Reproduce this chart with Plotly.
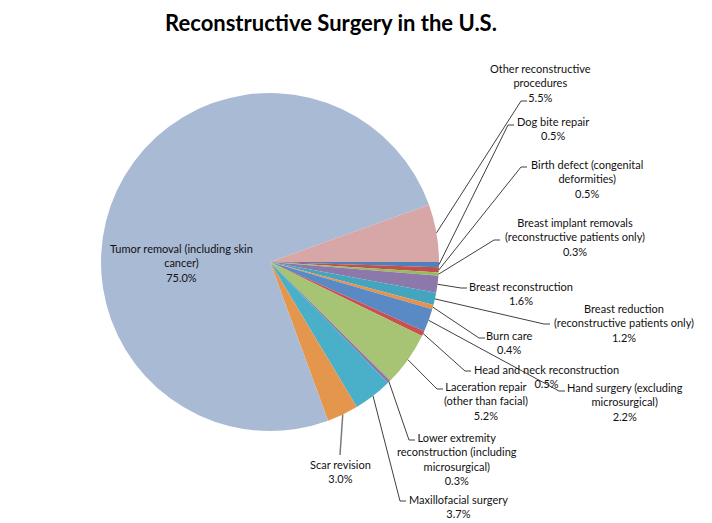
import math
import plotly.graph_objects as go

# ---- data (clockwise order, starting at 3 o'clock) ----
categories = [
    "Dog bite repair",
    "Birth defect (congenital<br>deformities)",
    "Breast implant removals<br>(reconstructive patients only)",
    "Breast reconstruction",
    "Breast reduction<br>(reconstructive patients only)",
    "Burn care",
    "Hand surgery (excluding<br>microsurgical)",
    "Head and neck reconstruction",
    "Laceration repair<br>(other than facial)",
    "Lower extremity<br>reconstruction (including<br>microsurgical)",
    "Maxillofacial surgery",
    "Scar revision",
    "Tumor removal (including skin<br>cancer)",
    "Other reconstructive<br>procedures",
]
values = [0.5, 0.5, 0.3, 1.6, 1.2, 0.4, 2.2, 0.5, 5.2, 0.3, 3.7, 3.0, 75.0, 5.5]
pct_labels = ["0.5%", "0.5%", "0.3%", "1.6%", "1.2%", "0.4%", "2.2%", "0.5%",
              "5.2%", "0.3%", "3.7%", "3.0%", "75.0%", "5.5%"]

colors = ["#4F81BD", "#C0504D", "#9BBB59", "#8D78AB", "#45A5BE", "#E8914A",
          "#5A8AC6", "#C9504E", "#A6C474", "#8D78AB", "#4AAFC8", "#E5964D",
          "#A9BAD5", "#D6A7A6"]

# ---- layout constants (pixels in the 712x523 window) ----
WIN_W, WIN_H = 712, 523
OFF = 8                       # page body margin
W, H = WIN_W - OFF, WIN_H - OFF
CX, CY, R = 270, 262, 169
ROTATION = 90  # first slice starts at 3 o'clock

# label block centre (x, y) and leader tick right end (x, y) or None
label_pos = [
    (553, 129), (587, 179), (575, 237), (521, 293.5), (624, 322.5),
    (510, 342), (625, 402), (546, 376), (486, 401), (457, 458.5),
    (458, 506), (340, 471), (181, 263), (540, 83),
]
tick_pos = [
    (514, 125), (527, 167), (500, 240), (467, 288), (550, 324),
    (485, 338), (565, 391), (471, 371), (443, 389), (415, 440),
    (406, 501), None, None, (527, 101),
]

def px(x):
    return (x - OFF) / W

def py(y):
    return 1 - (y - OFF) / H

fig = go.Figure()
fig.add_trace(go.Pie(
    labels=categories,
    values=values,
    sort=False,
    direction="clockwise",
    rotation=ROTATION,
    marker=dict(colors=colors, line=dict(width=0)),
    textinfo="none",
    hoverinfo="label+percent",
    showlegend=False,
    domain=dict(x=[px(CX - R), px(CX + R)], y=[py(CY + R), py(CY - R)]),
))

FONT = dict(family="Lato, Roboto, sans-serif", size=11, color="#111111")
shapes = []
annotations = []
total = sum(values)
cum = 0.0
for i, v in enumerate(values):
    mid = cum + v / 2
    cum += v
    ang = math.radians(ROTATION + 360 * mid / total)  # clockwise from 12 o'clock
    ex = CX + R * math.sin(ang)
    ey = CY - R * math.cos(ang)
    lx, ly = label_pos[i]
    annotations.append(dict(
        x=px(lx), y=py(ly), xref="paper", yref="paper",
        text=categories[i] + "<br>" + pct_labels[i],
        showarrow=False, align="center", xanchor="center", yanchor="middle",
        font=FONT,
    ))
    if categories[i].startswith("Tumor"):
        continue
    if tick_pos[i] is None:
        path = f"M {px(ex)},{py(ey)} L {px(lx)},{py(455)}"
        lc = "#7a7a7a"
        lw = 1.5
    else:
        tx, ty = tick_pos[i]
        path = (f"M {px(ex)},{py(ey)} L {px(tx - 6)},{py(ty)} "
                f"L {px(tx)},{py(ty)}")
        lc = "#404040"
        lw = 1
    shapes.append(dict(type="path", path=path, xref="paper", yref="paper",
                       line=dict(color=lc, width=lw)))

fig.update_layout(
    width=W, height=H,
    margin=dict(l=0, r=0, t=0, b=0),
    paper_bgcolor="white",
    plot_bgcolor="white",
    title=dict(
        text="Reconstructive Surgery in the U.S.",
        x=px(331), y=py(23), xanchor="center", yanchor="middle",
        font=dict(family="Lato, Roboto, sans-serif", size=22, color="black",
                  weight="bold"),
    ),
    shapes=shapes,
    annotations=annotations,
)

fig.write_html("out.html")
